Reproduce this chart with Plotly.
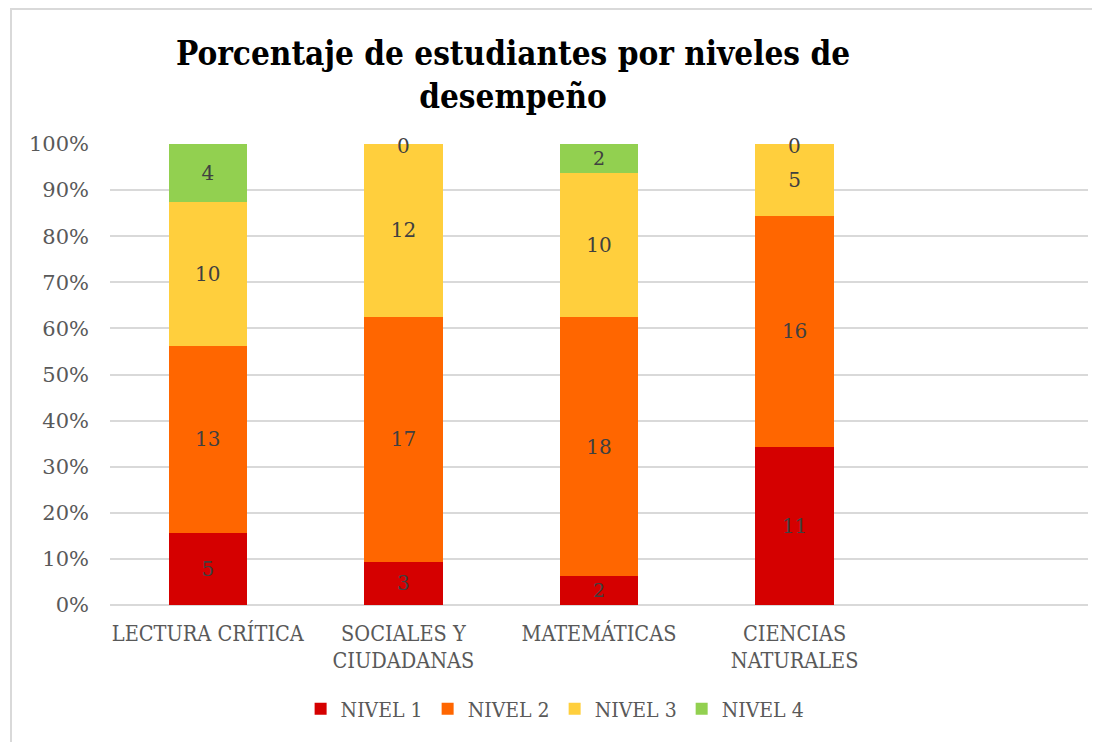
import plotly.graph_objects as go

categories = ["LECTURA CRÍTICA", "SOCIALES Y<br>CIUDADANAS", "MATEMÁTICAS", "CIENCIAS<br>NATURALES", " "]
niveles = ["NIVEL 1", "NIVEL 2", "NIVEL 3", "NIVEL 4"]
nivel_1 = [5, 3, 2, 11]
nivel_2 = [13, 17, 18, 16]
nivel_3 = [10, 12, 10, 5]
nivel_4 = [4, 0, 2, 0]
colors = ["#d50000", "#ff6600", "#ffcf3d", "#92d050"]
y_ticks = [0, 10, 20, 30, 40, 50, 60, 70, 80, 90, 100]

series = [nivel_1, nivel_2, nivel_3, nivel_4]
totals = [sum(v) for v in zip(*series)]

# page body adds an 8px offset, so the figure is a bit smaller than the window
W, H = 1092, 734
L, R, T, B = 102, 12, 136, 137
pw, ph = W - L - R, H - T - B
SERIF = "DejaVu Serif"
COND = "DejaVu Serif Condensed, DejaVu Serif"

fig = go.Figure()
for name, vals, col in zip(niveles, series, colors):
    pct = [v / t * 100 for v, t in zip(vals, totals)]
    fig.add_trace(go.Bar(
        x=categories[:len(vals)], y=pct, name=name,
        marker=dict(color=col, line=dict(width=0)),
        text=[str(v) if v else "" for v in vals],
        textposition="inside", insidetextanchor="middle",
        textfont=dict(family=SERIF, size=20, color="#404040"),
        textangle=0,
    ))

# zero-valued segments still carry a label at their (empty) position
for i, cat in enumerate(categories[:len(totals)]):
    cum = 0
    for vals in series:
        if vals[i] == 0:
            fig.add_annotation(x=cat, y=(cum / totals[i]) * 100, text="0", showarrow=False,
                               yanchor="middle", yshift=-2,
                               font=dict(family=SERIF, size=20, color="#404040"))
        cum += vals[i]

fig.add_shape(type="rect", xref="paper", yref="paper",
              x0=(3 - L) / pw, x1=(1110 - L) / pw,
              y0=(H - 760 - B) / ph, y1=(H - 1 - B) / ph,
              line=dict(color="#d9d9d9", width=2), fillcolor="rgba(0,0,0,0)", layer="below")

fig.update_layout(
    width=W, height=H,
    margin=dict(l=L, r=R, t=T, b=B, autoexpand=False),
    paper_bgcolor="white", plot_bgcolor="white",
    barmode="stack", bargap=0.6,
    title=dict(text="<b>Porcentaje de estudiantes por niveles de<br>desempeño</b>",
               x=505 / W, xanchor="center", y=1 - 57 / H, yanchor="middle",
               font=dict(family=COND, size=33, color="black")),
    xaxis=dict(type="category", categoryorder="array", categoryarray=categories,
               range=[-0.5, 4.5], showgrid=False, showline=False, ticks="",
               ticklabelstandoff=13,
               tickfont=dict(family=COND, size=21.5, color="#595959")),
    yaxis=dict(range=[0, 100], tickvals=y_ticks, ticktext=[f"{v}%" for v in y_ticks],
               gridcolor="#d9d9d9", gridwidth=1.5, zeroline=True, zerolinecolor="#d9d9d9", zerolinewidth=1.5,
               showline=False, ticks="", ticklabelstandoff=20,
               tickfont=dict(family=SERIF, size=21, color="#595959")),
    legend=dict(orientation="h", x=497 / W, xanchor="center", y=-(701 - (H - B)) / ph, yanchor="middle",
                font=dict(family=COND, size=21, color="#595959"),
                itemwidth=30, traceorder="normal"),
    showlegend=True,
)

fig.write_html("out.html")
